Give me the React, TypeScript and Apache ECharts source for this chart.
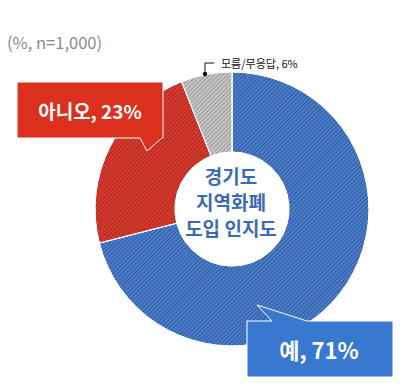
import React, { useEffect, useRef } from "react";
import * as echarts from "echarts";

const categories = ["예", "아니오", "모름/무응답"];
const values = [71, 23, 6];
const sliceColors = ["#4a7dc8", "#d6392d", "#c4c4c4"];
const stripeColors = ["rgba(30,60,125,0.5)", "rgba(120,20,15,0.4)", "rgba(100,100,100,0.4)"];
const subtitle = "(%, n=1,000)";
const centerLines = ["경기도", "지역화폐", "도입 인지도"];

const FONT = "'Noto Sans CJK KR', 'Noto Sans', sans-serif";

export default function App() {
  const ref = useRef<HTMLDivElement>(null);
  useEffect(() => {
    document.body.style.margin = "0";
    const chart = echarts.init(ref.current!, null, { renderer: "svg" });
    const data = categories.map((name, i) => ({
      name,
      value: values[i],
      itemStyle: {
        color: sliceColors[i],
        decal: {
          symbol: "rect",
          symbolSize: 1,
          dashArrayX: [[1, 0]],
          dashArrayY: [1, 2],
          rotation: -Math.PI / 4,
          color: stripeColors[i],
        },
      },
    }));
    chart.setOption({
      animation: false,
      backgroundColor: "#ffffff",
      series: [
        {
          type: "pie",
          radius: [57, 137],
          center: [232, 209],
          startAngle: 90,
          clockwise: true,
          label: { show: false },
          labelLine: { show: false },
          itemStyle: { borderColor: "#ffffff", borderWidth: 1 },
          emphasis: { disabled: true },
          data,
        },
      ],
      graphic: [
        {
          type: "text",
          z: 100,
          left: 7,
          top: 34,
          style: { text: subtitle, font: `16.5px ${FONT}`, fill: "#8a8a8a" },
        },
        {
          type: "text",
          z: 100,
          x: 231,
          y: 201,
          style: {
            text: centerLines.join("\n"),
            font: `bold 19px ${FONT}`,
            fill: "#3b6bb3",
            align: "center",
            verticalAlign: "middle",
            lineHeight: 26,
          },
        },
        // red callout
        {
          type: "polygon",
          z: 100,
          shape: {
            points: [
              [17, 82], [163, 82], [163, 138], [162, 138], [147, 151], [140, 138], [17, 138],
            ],
          },
          style: { fill: "#dc301e", stroke: "#ffffff", lineWidth: 1 },
        },
        {
          type: "text",
          z: 101,
          x: 90,
          y: 110,
          style: {
            text: `${categories[1]}, ${values[1]}%`,
            font: `bold 19px ${FONT}`,
            fill: "#ffffff",
            align: "center",
            verticalAlign: "middle",
          },
        },
        // blue callout
        {
          type: "polygon",
          z: 100,
          shape: {
            points: [
              [247, 321], [272, 321], [257, 305], [307, 321], [393, 321], [393, 377], [247, 377],
            ],
          },
          style: { fill: "#3878cf", stroke: "#ffffff", lineWidth: 1 },
        },
        {
          type: "text",
          z: 101,
          x: 319,
          y: 349,
          style: {
            text: `${categories[0]}, ${values[0]}%`,
            font: `bold 22px ${FONT}`,
            fill: "#ffffff",
            align: "center",
            verticalAlign: "middle",
          },
        },
        // small label for gray slice
        {
          type: "polyline",
          z: 100,
          shape: { points: [[205, 74], [205, 63], [214, 63]] },
          style: { stroke: "#111111", lineWidth: 1, fill: "none" },
        },
        {
          type: "circle",
          z: 100,
          shape: { cx: 205, cy: 74, r: 2.2 },
          style: { fill: "#111111" },
        },
        {
          type: "text",
          z: 100,
          x: 221,
          y: 63,
          style: {
            text: `${categories[2]}, ${values[2]}%`,
            font: `11px ${FONT}`,
            fill: "#111111",
            verticalAlign: "middle",
          },
        },
      ],
    });
    return () => chart.dispose();
  }, []);
  return (
    <div
      ref={ref}
      style={{ position: "absolute", left: 0, top: 0, width: 413, height: 392 }}
    />
  );
}
